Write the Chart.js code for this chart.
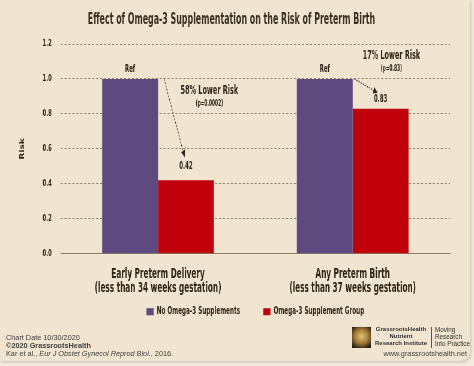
<!DOCTYPE html>
<html>
<head>
<meta charset="utf-8">
<script src="https://cdn.jsdelivr.net/npm/chart.js@4/dist/chart.umd.min.js"></script>
<style>
  html, body { margin: 0; padding: 0; width: 474px; height: 366px; overflow: hidden; background: #f4ece0; position: relative; }
  #panel { position: absolute; left: 0; top: 0; width: 470px; height: 361px; background: #f1e5d1; border-radius: 0 0 9px 0; box-shadow: 1px 1px 3px rgba(120,100,80,0.35); }
  #wrap { position: absolute; left: 0; top: 0; width: 790px; height: 366px; transform: scaleX(0.6); transform-origin: 0 0; }
  .t { position: absolute; white-space: nowrap; color: #3b2f24; }
  #title { left: -100px; width: 663px; top: 10px; text-align: center; font: bold 15px "DejaVu Sans Condensed", sans-serif; color: #3b2f24; transform: scaleX(0.585); transform-origin: 331.5px 0; }
  .foot { font: 7.3px "Liberation Sans", Arial, sans-serif; color: #3d3d3d; line-height: 8px; }
  .logo { position: absolute; left: 352px; top: 327px; width: 19px; height: 21px; background: radial-gradient(circle at 50% 45%, #e0c27a 0%, #a57c35 45%, #2a2016 85%); }
  .lt { font: bold 6px "Liberation Sans", Arial, sans-serif; color: #2e2e2e; text-align: center; line-height: 7.2px; }
  .rt { font: 6.3px "Liberation Sans", Arial, sans-serif; color: #2e2e2e; line-height: 7.2px; }
</style>
</head>
<body>
<div id="panel"></div>
<div id="wrap"><canvas id="c" width="790" height="366"></canvas></div>
<div class="t" id="title">Effect of Omega-3 Supplementation on the Risk of Preterm Birth</div>
<div class="t foot" style="left:6px; top:334px;">Chart Date 10/30/2020</div>
<div class="t foot" style="left:6px; top:342px; font-weight:bold;">©2020 GrassrootsHealth</div>
<div class="t foot" style="left:6px; top:349.5px;">Kar et al., <i>Eur J Obstet Gynecol Reprod Biol.</i>, 2016.</div>
<div class="logo"></div>
<div class="t lt" style="left:373px; width:56px; top:326px;">GrassrootsHealth<br>Nutrient<br>Research Institute</div>
<div style="position:absolute; left:431px; top:327px; width:1px; height:21px; background:#555;"></div>
<div class="t rt" style="left:435px; top:326px;">Moving<br>Research<br>Into Practice</div>
<div class="t foot" style="right:7px; top:349.5px;">www.grassrootshealth.net</div>
<script>
const categories = [
  ["Early Preterm Delivery", "(less than 34 weeks gestation)"],
  ["Any Preterm Birth", "(less than 37 weeks gestation)"]
];
const seriesNames = ["No Omega-3 Supplements", "Omega-3 Supplement Group"];
const noOmegaRisk = [1.0, 1.0];
const omegaRisk = [0.42, 0.83];
const noOmegaLabels = ["Ref", "Ref"];
const omegaLabels = ["0.42", "0.83"];
const riskNotes = ["58% Lower Risk", "17% Lower Risk"];
const pValues = ["(p=0.0002)", "(p=0.83)"];
const yMax = 1.2;
const yStep = 0.2;

const FONT = '"DejaVu Sans Condensed", "DejaVu Sans", sans-serif';
const INK = '#2f251b';
const GRID = '#8d7d68';
const LEGEND_FONT = { family: FONT, size: 10.5, weight: 'bold' };
const LEGEND_PAD = 7.75;
const LEGEND_GAP = 38;
const X_AXIS_HEIGHT = 45;

// annotation placement (style only, not data)
const NOTE_DX = [39, 18];
const NOTE_LEVEL = [0.93, 1.13];
const VAL_OFF = [14, 9];
const ARROW_START_DX = [10, 3];
const ARROW_END_DX = [-2, -5];
const ARROW_END_DY = [9, 7];

// extra horizontal spacing between legend items
function gapFiller() {
  const m = document.createElement('canvas').getContext('2d');
  m.font = 'bold ' + LEGEND_FONT.size + 'px ' + FONT;
  let s = '';
  const base = m.measureText('X').width;
  while (m.measureText('X' + s).width - base < LEGEND_GAP - LEGEND_PAD) s += '\u200a';
  return s;
}
const FILL = gapFiller();

const annot = {
  id: 'annot',
  afterDatasetsDraw(chart) {
    const ctx = chart.ctx;
    const m0 = chart.getDatasetMeta(0).data;
    const m1 = chart.getDatasetMeta(1).data;
    const ys = chart.scales.y;
    ctx.save();
    ctx.fillStyle = INK;
    ctx.strokeStyle = INK;
    ctx.textAlign = 'center';
    ctx.textBaseline = 'middle';
    for (let i = 0; i < categories.length; i++) {
      const a = m0[i], b = m1[i];
      ctx.font = 'bold 10px ' + FONT;
      ctx.fillText(noOmegaLabels[i], a.x, a.y - 10);
      const vy = b.y - VAL_OFF[i];
      ctx.fillText(omegaLabels[i], b.x, vy);
      const noteX = b.x + NOTE_DX[i];
      const noteY = ys.getPixelForValue(NOTE_LEVEL[i]);
      ctx.font = 'bold 12px ' + FONT;
      ctx.fillText(riskNotes[i], noteX, noteY);
      ctx.font = 'bold 8px ' + FONT;
      ctx.fillText(pValues[i], noteX, noteY + 13);
      // dotted arrow
      const x1 = a.x + a.width / 2 + ARROW_START_DX[i], y1 = a.y;
      const x2 = b.x + ARROW_END_DX[i], y2 = vy - ARROW_END_DY[i];
      const ang = Math.atan2(y2 - y1, x2 - x1);
      ctx.setLineDash([2, 1.6]);
      ctx.lineWidth = 1.1;
      ctx.beginPath();
      ctx.moveTo(x1, y1);
      ctx.lineTo(x2 - 4 * Math.cos(ang), y2 - 4 * Math.sin(ang));
      ctx.stroke();
      ctx.setLineDash([]);
      const L = 7, W = 3.5;
      ctx.beginPath();
      ctx.moveTo(x2, y2);
      ctx.lineTo(x2 - L * Math.cos(ang) + W * Math.sin(ang), y2 - L * Math.sin(ang) - W * Math.cos(ang));
      ctx.lineTo(x2 - L * Math.cos(ang) - W * Math.sin(ang), y2 - L * Math.sin(ang) + W * Math.cos(ang));
      ctx.closePath();
      ctx.fill();
    }
    ctx.restore();
  }
};

new Chart(document.getElementById('c'), {
  type: 'bar',
  data: {
    labels: categories,
    datasets: [
      { label: seriesNames[0], data: noOmegaRisk, backgroundColor: '#5d4a7e' },
      { label: seriesNames[1], data: omegaRisk, backgroundColor: '#c0000b' }
    ]
  },
  plugins: [annot],
  options: {
    responsive: false,
    animation: false,
    events: [],
    layout: { padding: { left: 31, right: 40, top: 44, bottom: 39 } },
    datasets: { bar: { categoryPercentage: 0.574, barPercentage: 1.0 } },
    plugins: {
      legend: {
        position: 'bottom',
        fullSize: false,
        labels: {
          boxWidth: 12, boxHeight: 7, padding: LEGEND_PAD,
          color: INK,
          font: LEGEND_FONT,
          generateLabels(chart) {
            const items = Chart.defaults.plugins.legend.labels.generateLabels(chart);
            items.forEach((it, i) => { if (i < items.length - 1) it.text = it.text + FILL; });
            return items;
          }
        }
      },
      title: { display: false },
      tooltip: { enabled: false }
    },
    scales: {
      x: {
        grid: { display: false, drawTicks: false },
        border: { display: true, color: GRID, width: 1 },
        ticks: { color: INK, padding: 14, font: { family: FONT, size: 13.5, weight: 'bold', lineHeight: 1.04 } },
        afterFit: (scale) => { scale.height = X_AXIS_HEIGHT; }
      },
      y: {
        min: 0, max: yMax,
        title: { display: true, text: 'Risk', color: INK, padding: { top: 0, bottom: 13 }, font: { family: FONT, size: 10, weight: 'bold' } },
        grid: { color: GRID, drawTicks: false, lineWidth: 1 },
        border: { display: false, dash: [3.3, 3.3] },
        ticks: {
          stepSize: yStep, padding: 15, color: INK,
          font: { family: FONT, size: 9.5, weight: 'bold' },
          callback: v => Number(v).toFixed(1)
        }
      }
    }
  }
});
</script>
</body>
</html>
